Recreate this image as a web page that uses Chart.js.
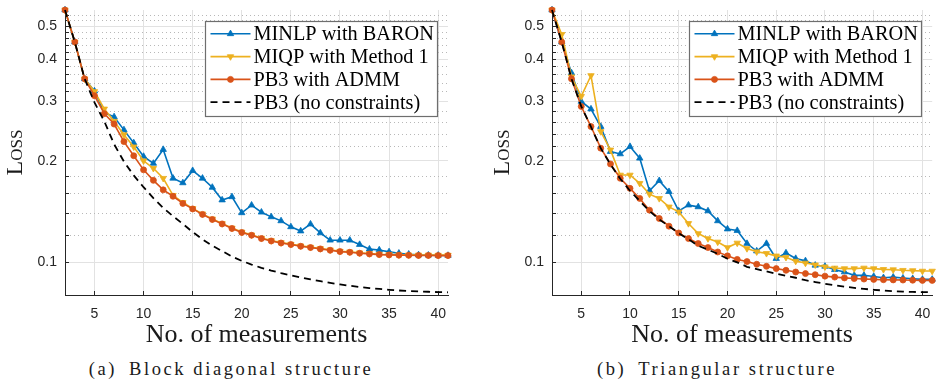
<!DOCTYPE html>
<html><head><meta charset="utf-8">
<script src="https://cdn.jsdelivr.net/npm/chart.js@4.4.1/dist/chart.umd.min.js"></script>
<style>
html,body{margin:0;padding:0;background:#fff;}
#wrap{position:relative;width:937px;height:384px;overflow:hidden;background:#fff;}
.pane{position:absolute;top:0;height:355px;}
.cap{position:absolute;top:358px;font-family:"Liberation Serif","Times New Roman",Times,serif;font-size:18.5px;letter-spacing:2.6px;color:#1a1a1a;white-space:nowrap;transform:translateX(-50%);line-height:22px;}
</style></head><body>
<div id="wrap">
  <div class="pane" style="left:0;width:468px"><canvas id="c1" width="468" height="355"></canvas></div>
  <div class="pane" style="left:468px;width:469px"><canvas id="c2" width="469" height="355"></canvas></div>
  <div class="cap" style="left:231px">(a)&ensp;Block diagonal structure</div>
  <div class="cap" style="left:717px">(b)&ensp;Triangular structure</div>
</div>
<script>
// ---------------- data ----------------
const nMeasurements = [2,3,4,5,6,7,8,9,10,11,12,13,14,15,16,17,18,19,20,21,22,23,24,25,26,27,28,29,30,31,32,33,34,35,36,37,38,39,40,41];

const seriesLabels = ["MINLP with BARON", "MIQP with Method 1", "PB3 with ADMM", "PB3 (no constraints)"];

// (a) Block diagonal structure
const blockBaron = [0.56,0.45,0.35,0.322,0.278,0.270,0.247,0.226,0.206,0.1965,0.216,0.1775,0.172,0.187,0.1775,0.1668,0.153,0.1564,0.1402,0.1477,0.1408,0.1364,0.1327,0.1274,0.1238,0.1298,0.1222,0.1163,0.1163,0.1163,0.1129,0.1094,0.1088,0.1074,0.1064,0.1057,0.1052,0.1050,0.1049,0.1048];
const blockMiqp = [0.56,0.45,0.35,0.321,0.285,0.262,0.239,0.220,0.200,0.190,0.1775,0.158,0.1505,0.1445,0.1392,0.1345,0.1303,0.1264,0.1230,0.1206,0.1180,0.1160,0.1144,0.1132,0.1119,0.1109,0.1099,0.1089,0.1079,0.1074,0.1067,0.1062,0.1057,0.1055,0.1053,0.1052,0.1051,0.1051,0.1050,0.1050];
const blockAdmm = [0.56,0.45,0.35,0.312,0.276,0.257,0.228,0.207,0.188,0.175,0.164,0.157,0.1495,0.144,0.1387,0.134,0.130,0.126,0.1226,0.1203,0.1176,0.1157,0.1141,0.1129,0.1116,0.1106,0.1096,0.1086,0.1076,0.1071,0.1064,0.1059,0.1054,0.1052,0.1050,0.1049,0.1048,0.1048,0.1047,0.1047];
const blockUnconstrained = [0.56,0.45,0.35,0.298,0.262,0.224,0.199,0.181,0.167,0.155,0.145,0.137,0.130,0.123,0.117,0.112,0.108,0.104,0.101,0.0985,0.0963,0.0945,0.0929,0.0915,0.0902,0.0890,0.0879,0.0869,0.0860,0.0852,0.0845,0.0839,0.0834,0.0829,0.0825,0.0822,0.0820,0.0818,0.0816,0.0815];

// (b) Triangular structure
const triBaron = [0.56,0.45,0.3645,0.300,0.2848,0.2527,0.213,0.2096,0.2204,0.2035,0.163,0.1746,0.162,0.142,0.1478,0.146,0.142,0.1327,0.1255,0.1242,0.1137,0.108,0.1137,0.1026,0.1066,0.1026,0.101,0.098,0.0973,0.0951,0.0936,0.0915,0.0915,0.0908,0.0900,0.0904,0.0898,0.0894,0.0890,0.0890];
const triMiqp = [0.56,0.474,0.355,0.3105,0.358,0.2442,0.2154,0.1815,0.1815,0.1715,0.1593,0.1547,0.146,0.1411,0.1304,0.1217,0.1176,0.1149,0.1106,0.1141,0.1099,0.1075,0.1063,0.1045,0.1035,0.1008,0.0995,0.0983,0.0970,0.0962,0.0958,0.0958,0.0962,0.0958,0.0953,0.0951,0.0947,0.0945,0.0942,0.0942];
const triAdmm = [0.56,0.45,0.35,0.29,0.2527,0.218,0.1957,0.1775,0.1657,0.1547,0.1428,0.1349,0.128,0.1222,0.1176,0.1137,0.1106,0.1073,0.1045,0.102,0.1005,0.0987,0.0973,0.0958,0.0947,0.0936,0.0926,0.0919,0.0910,0.0904,0.0899,0.0895,0.0892,0.0890,0.0888,0.0887,0.0886,0.0885,0.0884,0.0884];
const triUnconstrained = [0.56,0.45,0.35,0.29,0.252,0.218,0.195,0.177,0.163,0.152,0.142,0.134,0.128,0.122,0.117,0.112,0.109,0.106,0.1025,0.100,0.097,0.0955,0.094,0.0925,0.0912,0.090,0.0885,0.0874,0.0864,0.0855,0.0847,0.084,0.0834,0.0829,0.0825,0.0821,0.0819,0.0817,0.0816,0.0815];

// ticks
const xTickValues = [5,10,15,20,25,30,35,40];
const yMajorTicks = [0.1,0.2,0.3,0.4,0.5];
const yMinorTicks = [0.12,0.14,0.16,0.18,0.22,0.24,0.26,0.28,0.32,0.34,0.36,0.38,0.42,0.44,0.46,0.48,0.52,0.54];
const yTickLabels = ["0.1","0.2","0.3","0.4","0.5"];

// ---------------- styles ----------------
const SERIF = '"Liberation Serif", "Times New Roman", Times, serif';
const SANS = '"Liberation Sans", Arial, Helvetica, sans-serif';
const styles = [
  {color:'#0072BD', marker:'triangle', radius:3.7, rot:0,   dash:[],    lw:1.6, order:4},
  {color:'#EDB120', marker:'triangle', radius:3.7, rot:180, dash:[],    lw:1.6, order:3},
  {color:'#D95319', marker:'circle',   radius:3.0, rot:0,   dash:[],    lw:1.6, order:2},
  {color:'#000000', marker:'line',     radius:0,   rot:0,   dash:[7,5], lw:1.8, order:1}
];

const isMinor = v => yMinorTicks.some(m => Math.abs(m - v) < 1e-9);
const majorLabel = v => { const i = yMajorTicks.findIndex(m => Math.abs(m - v) < 1e-9); return i >= 0 ? yTickLabels[i] : ''; };

function drawMarker(ctx, st, x, y){
  if (st.marker === 'line') return;
  ctx.save();
  ctx.fillStyle = st.color; ctx.strokeStyle = st.color; ctx.lineWidth = 0.8; ctx.setLineDash([]);
  ctx.beginPath();
  if (st.marker === 'circle') {
    ctx.arc(x, y, st.radius, 0, Math.PI*2);
  } else {
    let rad = st.rot * Math.PI / 180;
    for (let k=0;k<3;k++){
      const px = x + Math.sin(rad)*st.radius, py = y - Math.cos(rad)*st.radius;
      if (k===0) ctx.moveTo(px,py); else ctx.lineTo(px,py);
      rad += 2*Math.PI/3;
    }
    ctx.closePath();
  }
  ctx.fill(); ctx.stroke();
  ctx.restore();
}

const boxLegend = {
  id: 'boxLegend',
  afterDraw(chart){
    const ctx = chart.ctx, a = chart.chartArea;
    const w = 232, h = 95;
    const x = Math.round(a.right - 11 - w) + 0.5, y = Math.round(a.top + 11) + 0.5;
    ctx.save();
    ctx.fillStyle = '#ffffff'; ctx.fillRect(x, y, w, h);
    ctx.strokeStyle = '#6e6e6e'; ctx.lineWidth = 1.2; ctx.strokeRect(x, y, w, h);
    chart.data.datasets.forEach((ds, i) => {
      const st = styles[i];
      const ry = y + 12.3 + i*22.8;
      ctx.save();
      ctx.strokeStyle = st.color; ctx.lineWidth = st.lw; ctx.setLineDash(st.dash);
      ctx.beginPath(); ctx.moveTo(x+5, ry); ctx.lineTo(x+45, ry); ctx.stroke();
      ctx.restore();
      drawMarker(ctx, st, x+25, ry);
      ctx.fillStyle = '#000'; ctx.font = '20.3px ' + SERIF;
      ctx.textBaseline = 'middle'; ctx.textAlign = 'left';
      ctx.fillText(ds.label, x+48, ry+1);
    });
    ctx.restore();
  }
};

function buildChart(id, seriesValues, padLeft, padRight){
  return new Chart(document.getElementById(id), {
    type: 'line',
    data: {
      datasets: seriesValues.map((vals, si) => {
        const st = styles[si];
        return {
          label: seriesLabels[si],
          data: nMeasurements.map((n, i) => ({x: n, y: vals[i]})),
          borderColor: st.color, backgroundColor: st.color,
          borderWidth: st.lw, borderDash: st.dash,
          pointStyle: st.marker === 'line' ? false : st.marker,
          pointRadius: st.radius, pointRotation: st.rot,
          pointBackgroundColor: st.color, pointBorderColor: st.color, pointBorderWidth: 0.8,
          tension: 0, clip: 6, order: st.order
        };
      })
    },
    options: {
      responsive: false, animation: false, devicePixelRatio: 1,
      layout: {padding: {left: padLeft, right: padRight, top: 10, bottom: 0}},
      plugins: {legend: {display: false}, tooltip: {enabled: false}},
      scales: {
        x: {
          type: 'linear', min: 2, max: 41,
          afterBuildTicks: s => { s.ticks = xTickValues.map(v => ({value: v})); },
          afterFit: s => { s.height = 60; s.paddingLeft = 0; s.paddingRight = 0; },
          ticks: {autoSkip: false, maxRotation: 0, padding: 15, color: '#262626',
                  font: {family: SANS, size: 14}, callback: v => String(v)},
          grid: {color: '#e2e2e2', lineWidth: 1, drawTicks: true, tickLength: -4,
                 tickColor: '#262626', tickWidth: 1},
          border: {display: true, color: '#262626', width: 1},
          title: {display: true, text: 'No. of measurements', color: '#1a1a1a',
                  font: {family: SERIF, size: 26, lineHeight: 1.2}, padding: {top: 0, bottom: 4.5}}
        },
        y: {
          type: 'logarithmic', min: 0.08, max: 0.56,
          afterBuildTicks: s => { s.ticks = yMajorTicks.concat(yMinorTicks).sort((a,b)=>a-b).map(v => ({value: v})); },
          afterFit: s => { s.width = 65; s.paddingTop = 0; s.paddingBottom = 0; },
          ticks: {autoSkip: false, padding: 12, color: '#262626',
                  font: {family: SANS, size: 14}, callback: v => majorLabel(v)},
          grid: {drawTicks: true, tickLength: -4, tickColor: '#262626', tickWidth: 1, lineWidth: 1,
                 color: c => (c.tick && isMinor(c.tick.value)) ? '#b8b8b8' : '#e2e2e2'},
          border: {display: true, color: '#262626', width: 1,
                   dash: c => (c.tick && isMinor(c.tick.value)) ? [1, 3] : []},
          title: {display: true, text: 'Loss', color: '#1a1a1a',
                  font: {family: SERIF, size: 24, weight: 'small-caps', lineHeight: 1.2}, padding: {top: 1, bottom: 0}}
        }
      }
    },
    plugins: [boxLegend]
  });
}

const charts = [
  buildChart('c1', [blockBaron, blockMiqp, blockAdmm, blockUnconstrained], 0, 20),
  buildChart('c2', [triBaron, triMiqp, triAdmm, triUnconstrained], 19, 3)
];
if (document.fonts && document.fonts.ready) {
  document.fonts.ready.then(() => charts.forEach(c => c.update('none')));
}
</script>
</body></html>
